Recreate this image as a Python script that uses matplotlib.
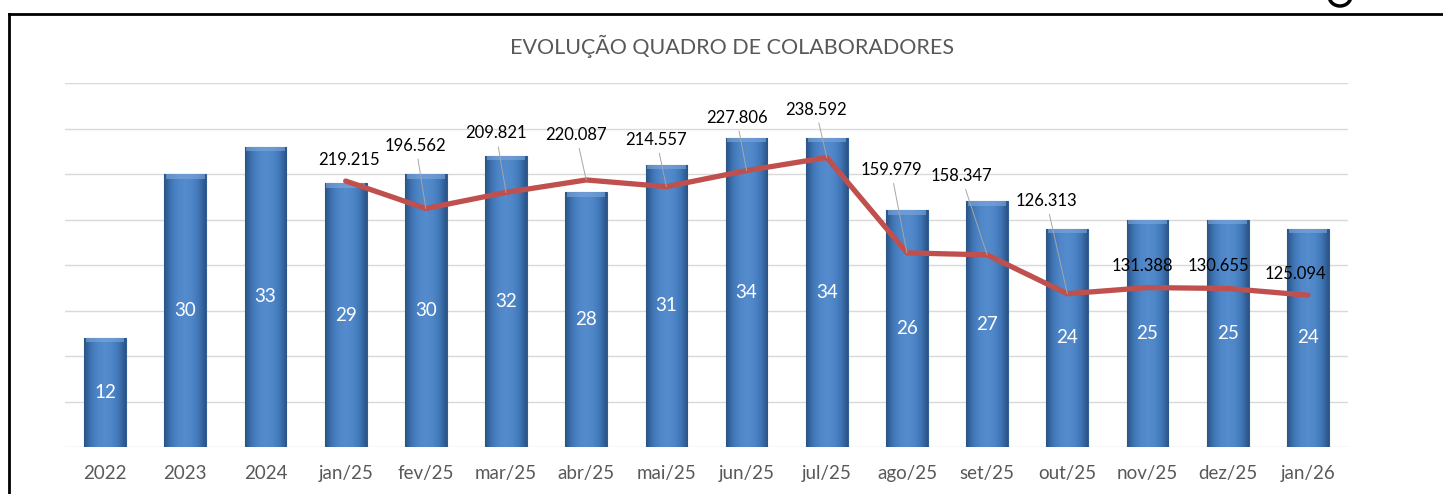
import matplotlib
matplotlib.use("Agg")
import matplotlib.pyplot as plt
import numpy as np
from matplotlib.colors import LinearSegmentedColormap
from matplotlib.lines import Line2D
from matplotlib.patches import Ellipse

plt.rcParams['font.family'] = ['Lato', 'DejaVu Sans']

# ----- data -----
categories = ['2022', '2023', '2024', 'jan/25', 'fev/25', 'mar/25', 'abr/25', 'mai/25',
              'jun/25', 'jul/25', 'ago/25', 'set/25', 'out/25', 'nov/25', 'dez/25', 'jan/26']
headcount = [12, 30, 33, 29, 30, 32, 28, 31, 34, 34, 26, 27, 24, 25, 25, 24]

line_cats = categories[3:]
line_values = [219.215, 196.562, 209.821, 220.087, 214.557, 227.806, 238.592,
               159.979, 158.347, 126.313, 131.388, 130.655, 125.094]
line_labels = ['219.215', '196.562', '209.821', '220.087', '214.557', '227.806', '238.592',
               '159.979', '158.347', '126.313', '131.388', '130.655', '125.094']

# label offsets in pixels (dx, dy) and whether a leader line is drawn
label_offsets = [(3, 21), (-10, 63), (-10, 59), (-10, 45), (-10, 47), (-10, 53), (-11, 48),
                 (-16, 83), (-26, 79), (-21, 93), (-5, 22), (-9, 22), (-12, 21)]
leaders = [False, True, True, True, True, True, True, True, True, True, False, False, False]

W, H = 1443, 494
fig = plt.figure(figsize=(W / 100, H / 100), dpi=100)
ax = fig.add_axes([65 / W, 1 - 447 / H, (1348 - 65) / W, (447 - 83) / H])

x = np.arange(len(categories))
bars = ax.bar(x, headcount, width=0.52, color='#4a7fc0', edgecolor='#2f5d94',
              linewidth=0.8, zorder=2)

# horizontal shading on each bar to imitate the bevel look
cmap = LinearSegmentedColormap.from_list(
    'bevel', ['#2a5486', '#4077b7', '#4f86c8', '#548cce', '#4f86c8', '#4077b7', '#2a5486'])
grad = np.linspace(0, 1, 64).reshape(1, -1)
for b in bars:
    x0 = b.get_x()
    im = ax.imshow(grad, extent=[x0, x0 + b.get_width(), 0, b.get_height()],
                   aspect='auto', cmap=cmap, interpolation='bicubic', zorder=2.1)
    im.set_clip_path(b)
# lighter top cap
ax.bar(x, 0.5, bottom=np.array(headcount) - 0.5, width=0.48, color='#7fa8dc',
       edgecolor='none', zorder=2.2, alpha=0.6)

ax.bar_label(bars, labels=[str(v) for v in headcount], label_type='center',
             color='white', fontsize=13.5, zorder=5)
for t in ax.texts:
    t.set_zorder(5)

ax2 = ax.twinx()

ax.set_xlim(-0.5, len(categories) - 0.5)
ax.set_ylim(0, 40)
ax.set_yticks(np.arange(0, 41, 5))
ax.yaxis.grid(True, color='#d9d9d9', linewidth=1)
ax.set_axisbelow(True)
ax.tick_params(axis='y', left=False, right=False, labelleft=False, labelright=False)
ax.set_xticks(x)
ax.set_xticklabels(categories, fontsize=13.5, color='#595959')
ax.tick_params(axis='x', length=0, pad=13)
for s in ax.spines.values():
    s.set_visible(False)

ax2.set_ylim(0, 300)
ax2.set_xlim(-0.5, len(categories) - 0.5)
lx = x[3:]
ax2.plot(lx, line_values, color='#c0504d', linewidth=3.8, solid_joinstyle='round',
         solid_capstyle='round', zorder=3)
ax2.set_yticks([])
ax2.tick_params(axis='y', left=False, right=False)
for s in ax2.spines.values():
    s.set_visible(False)

for xi, v, lab, off, lead in zip(lx, line_values, line_labels, label_offsets, leaders):
    props = dict(arrowstyle='-', color='#a6a6a6', lw=0.7, shrinkA=2, shrinkB=0) if lead else None
    ax2.annotate(lab, xy=(xi, v), xytext=off, textcoords='offset pixels',
                 ha='center', va='center', fontsize=12, color='black',
                 arrowprops=props, zorder=6)

fig.text(732 / W, 1 - 46 / H, 'EVOLUÇÃO QUADRO DE COLABORADORES', ha='center', va='center',
         fontsize=15.5, color='#595959')

# outer frame
fig.add_artist(Line2D([9 / W, 9 / W], [0, 1 - 14 / H], transform=fig.transFigure,
                      color='black', linewidth=2))
fig.add_artist(Line2D([9 / W, 1], [1 - 14 / H, 1 - 14 / H], transform=fig.transFigure,
                      color='black', linewidth=2))
fig.add_artist(Ellipse((1340 / W, 1 + 4 / H), 22 / W, 20 / H, transform=fig.transFigure,
                       fill=False, edgecolor='black', linewidth=2.5))

fig.savefig('out.png', dpi=100)
